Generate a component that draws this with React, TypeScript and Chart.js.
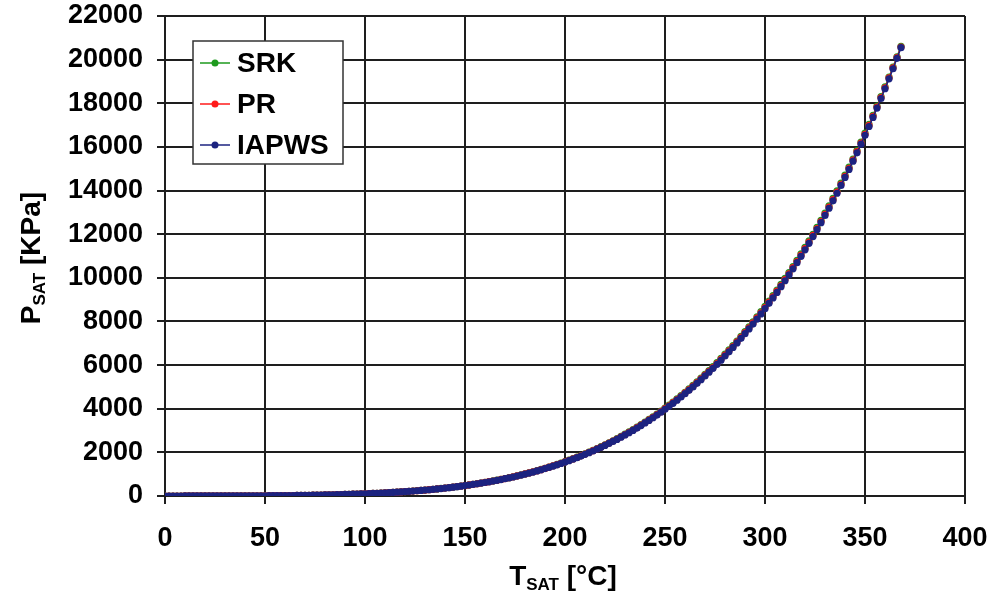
import React, { useEffect, useRef } from "react";
import { Chart, registerables } from "chart.js";

Chart.register(...registerables);

// Saturation temperature [°C]
const T_SAT = [0,2,4,6,8,10,12,14,16,18,20,22,24,26,28,30,32,34,36,38,40,42,44,46,48,50,52,54,56,58,60,62,64,66,68,70,72,74,76,78,80,82,84,86,88,90,92,94,96,98,100,102,104,106,108,110,112,114,116,118,120,122,124,126,128,130,132,134,136,138,140,142,144,146,148,150,152,154,156,158,160,162,164,166,168,170,172,174,176,178,180,182,184,186,188,190,192,194,196,198,200,202,204,206,208,210,212,214,216,218,220,222,224,226,228,230,232,234,236,238,240,242,244,246,248,250,252,254,256,258,260,262,264,266,268,270,272,274,276,278,280,282,284,286,288,290,292,294,296,298,300,302,304,306,308,310,312,314,316,318,320,322,324,326,328,330,332,334,336,338,340,342,344,346,348,350,352,354,356,358,360,362,364,366,368];

// Saturation pressure [kPa]
const P_SRK = [0.59,0.68,0.79,0.91,1.05,1.20,1.37,1.56,1.78,2.02,2.29,2.60,2.93,3.31,3.72,4.18,4.69,5.25,5.87,6.55,7.30,8.12,9.02,10.00,11.08,12.25,13.53,14.92,16.43,18.07,19.85,21.78,23.86,26.11,28.54,31.15,33.97,37.00,40.25,43.74,47.48,51.48,55.77,60.34,65.22,70.43,75.98,81.89,88.17,94.85,
101.9,109.5,117.5,126.0,135.0,144.5,154.5,165.1,176.3,188.1,200.6,213.7,227.5,242.0,257.3,273.3,290.2,307.9,326.4,345.8,366.1,387.4,409.7,433.0,457.3,
482,508,536,565,595,626,659,692,728,764,803,841,882,925,969,1017,1063,1112,1163,1217,1272,1328,1387,1448,1511,
1575,1641,1709,1780,1855,1933,2010,2090,2173,2260,2350,2439,2533,2629,2729,2833,2937,3044,3155,3271,3390,3509,3633,3759,3891,
4028,4163,4304,4449,4599,4753,4907,5066,5230,5399,5575,5749,5928,6113,6304,6500,6696,6898,7105,7319,7539,7754,7983,8215,8454,
8691,8935,9181,9439,9701,9974,10240,10519,10801,11095,11391,11693,11997,12315,12634,12967,13295,13637,13981,14342,14703,15073,15444,15831,16221,
16628,17029,17448,17869,18309,18750,19205,19661,20129,20608];

const P_PR = [0.60,0.69,0.80,0.92,1.06,1.21,1.39,1.58,1.80,2.04,2.31,2.62,2.96,3.34,3.75,4.21,4.72,5.29,5.91,6.59,7.34,8.16,9.07,10.05,11.13,12.30,13.58,14.97,16.48,18.12,19.90,21.83,23.90,26.15,28.57,31.18,33.99,37.01,40.25,43.72,47.45,51.44,55.71,60.26,65.12,70.31,75.83,81.72,87.97,94.62,
101.7,109.2,117.1,125.6,134.5,143.9,153.9,164.4,175.5,187.2,199.6,212.6,226.3,240.7,255.9,271.8,288.5,306.0,324.4,343.6,363.8,384.9,406.9,430.0,454.1,
479.5,506,533,562,591,622,655,688,723,759,798,836,876,918,963,1010,1056,1105,1155,1208,1264,1319,1378,1438,1500,
1565,1631,1698,1768,1843,1920,1997,2076,2159,2245,2335,2424,2516,2612,2712,2815,2918,3025,3135,3250,3369,3487,3609,3735,3866,
4002,4137,4277,4421,4570,4722,4875,5033,5197,5365,5539,5712,5890,6074,6263,6459,6653,6853,7060,7272,7490,7708,7932,8163,8400,
8640,8882,9129,9386,9648,9919,10187,10465,10747,11040,11338,11638,11944,12260,12581,12913,13242,13583,13929,14288,14652,15020,15394,15780,16172,
16579,16983,17401,17824,18264,18708,19162,19622,20094,20577];

const P_IAPWS = [0.611,0.706,0.814,0.935,1.073,1.228,1.403,1.599,1.819,2.065,2.339,2.645,2.986,3.364,3.783,4.247,4.760,5.325,5.948,6.633,7.385,8.210,9.112,10.10,11.18,12.35,13.63,15.02,16.53,18.17,19.95,21.87,23.94,26.18,28.60,31.20,34.00,37.01,40.24,43.70,47.41,51.39,55.64,60.17,65.02,70.18,75.68,81.54,87.77,94.39,
101.4,108.9,116.8,125.2,134.0,143.4,153.3,163.7,174.8,186.4,198.7,211.6,225.2,239.5,254.5,270.3,286.9,304.2,322.5,341.5,361.5,382.5,404.3,427.2,451.1,
476.2,502,529,558,587,618,650,683,718,754,792,830,870,912,956,1003,1049,1097,1147,1200,1255,1310,1368,1428,1490,
1555,1620,1687,1757,1831,1908,1984,2063,2145,2231,2320,2408,2500,2595,2694,2797,2899,3005,3115,3229,3347,3464,3586,3711,3841,
3976,4110,4249,4392,4540,4692,4844,5001,5163,5330,5503,5675,5852,6035,6223,6417,6610,6809,7014,7225,7442,7658,7881,8110,8346,
8588,8829,9077,9332,9595,9865,10134,10410,10694,10985,11284,11583,11890,12205,12528,12858,13189,13529,13877,14235,14601,14968,15344,15729,16124,
16529,16936,17353,17780,18218,18666,19119,19583,20059,20546];

const SERIES_NAMES = ["SRK", "PR", "IAPWS"];
const SERIES_COLORS = ["#1e9a1e", "#ff1a1a", "#1c2380"];

const X_MIN = 0, X_MAX = 400, X_STEP = 50;
const Y_MIN = 0, Y_MAX = 22000, Y_STEP = 2000;

const FONT = "'Liberation Sans', Arial, sans-serif";
const GRID = "#1e1e1e";

const toPoints = (ys: number[]) => T_SAT.map((t, i) => ({ x: t, y: ys[i] }));

const overlayPlugin = {
  id: "overlay",
  afterDraw(chart: any) {
    const ctx = chart.ctx;
    const area = chart.chartArea;
    ctx.save();
    ctx.fillStyle = "#000";
    const drawSubTitle = (main: string, sub: string, rest: string) => {
      ctx.font = `bold 28px ${FONT}`;
      const w1 = ctx.measureText(main).width;
      const w3 = ctx.measureText(rest).width;
      ctx.font = `bold 17px ${FONT}`;
      const w2 = ctx.measureText(sub).width;
      const total = w1 + w2 + w3;
      let x = -total / 2;
      ctx.textAlign = "left";
      ctx.textBaseline = "alphabetic";
      ctx.font = `bold 28px ${FONT}`;
      ctx.fillText(main, x, 0);
      x += w1;
      ctx.font = `bold 17px ${FONT}`;
      ctx.fillText(sub, x, 5);
      x += w2;
      ctx.font = `bold 28px ${FONT}`;
      ctx.fillText(rest, x, 0);
    };
    ctx.save();
    ctx.translate((area.left + area.right) / 2 - 2, 585);
    drawSubTitle("T", "SAT", " [°C]");
    ctx.restore();
    ctx.save();
    ctx.translate(40, (area.top + area.bottom) / 2 + 2);
    ctx.rotate(-Math.PI / 2);
    drawSubTitle("P", "SAT", " [KPa]");
    ctx.restore();

    // Legend box
    const lx = 193, ly = 41, lw = 150, lh = 123;
    ctx.fillStyle = "#fff";
    ctx.fillRect(lx, ly, lw, lh);
    ctx.strokeStyle = "#333";
    ctx.lineWidth = 1.5;
    ctx.strokeRect(lx, ly, lw, lh);
    SERIES_NAMES.forEach((name, i) => {
      const cy = 63 + i * 41;
      ctx.strokeStyle = SERIES_COLORS[i];
      ctx.lineWidth = 1.5;
      ctx.beginPath();
      ctx.moveTo(200, cy);
      ctx.lineTo(230, cy);
      ctx.stroke();
      ctx.fillStyle = SERIES_COLORS[i];
      ctx.beginPath();
      ctx.arc(215, cy, 3.5, 0, Math.PI * 2);
      ctx.fill();
      ctx.fillStyle = "#000";
      ctx.font = `bold 28px ${FONT}`;
      ctx.textAlign = "left";
      ctx.textBaseline = "middle";
      ctx.fillText(name, 237, cy + 1);
    });
    ctx.restore();
  },
};

export default function App() {
  const ref = useRef<HTMLCanvasElement>(null);
  useEffect(() => {
    if (!ref.current) return;
    const datasets = [P_SRK, P_PR, P_IAPWS].map((ys, i) => ({
      label: SERIES_NAMES[i],
      data: toPoints(ys),
      showLine: true,
      borderColor: SERIES_COLORS[i],
      backgroundColor: SERIES_COLORS[i],
      borderWidth: 1.5,
      pointRadius: 3.6,
      pointBorderWidth: 0,
      pointHoverRadius: 3.6,
      order: 3 - i,
    }));
    const chart = new Chart(ref.current, {
      type: "scatter",
      data: { datasets },
      plugins: [overlayPlugin],
      options: {
        animation: false,
        responsive: false,
        devicePixelRatio: 1,
        layout: { padding: { left: 0, right: 26, top: 16, bottom: 0 } },
        plugins: { legend: { display: false }, tooltip: { enabled: false }, title: { display: false } },
        scales: {
          x: {
            type: "linear",
            min: X_MIN,
            max: X_MAX,
            afterFit: (s: any) => { s.height = 100; s.paddingLeft = 0; s.paddingRight = 0; },
            ticks: { stepSize: X_STEP, color: "#000", padding: 18, font: { family: FONT, size: 27, weight: "bold" }, callback: (v: any) => String(v) },
            grid: { color: GRID, lineWidth: 2, tickLength: 8, tickColor: GRID, tickWidth: 2 },
            border: { color: GRID, width: 2 },
          },
          y: {
            type: "linear",
            min: Y_MIN,
            max: Y_MAX,
            afterFit: (s: any) => { s.width = 165; s.paddingTop = 0; s.paddingBottom = 0; },
            ticks: { stepSize: Y_STEP, color: "#000", padding: 14, font: { family: FONT, size: 27, weight: "bold" }, callback: (v: any) => String(v) },
            grid: { color: GRID, lineWidth: 2, tickLength: 8, tickColor: GRID, tickWidth: 2 },
            border: { color: GRID, width: 2 },
          },
        },
      },
    });
    return () => chart.destroy();
  }, []);
  return (
    <div style={{ position: "absolute", left: 0, top: 0, width: 991, height: 596, background: "#fff" }}>
      <canvas ref={ref} width={991} height={596} style={{ display: "block" }} />
    </div>
  );
}
